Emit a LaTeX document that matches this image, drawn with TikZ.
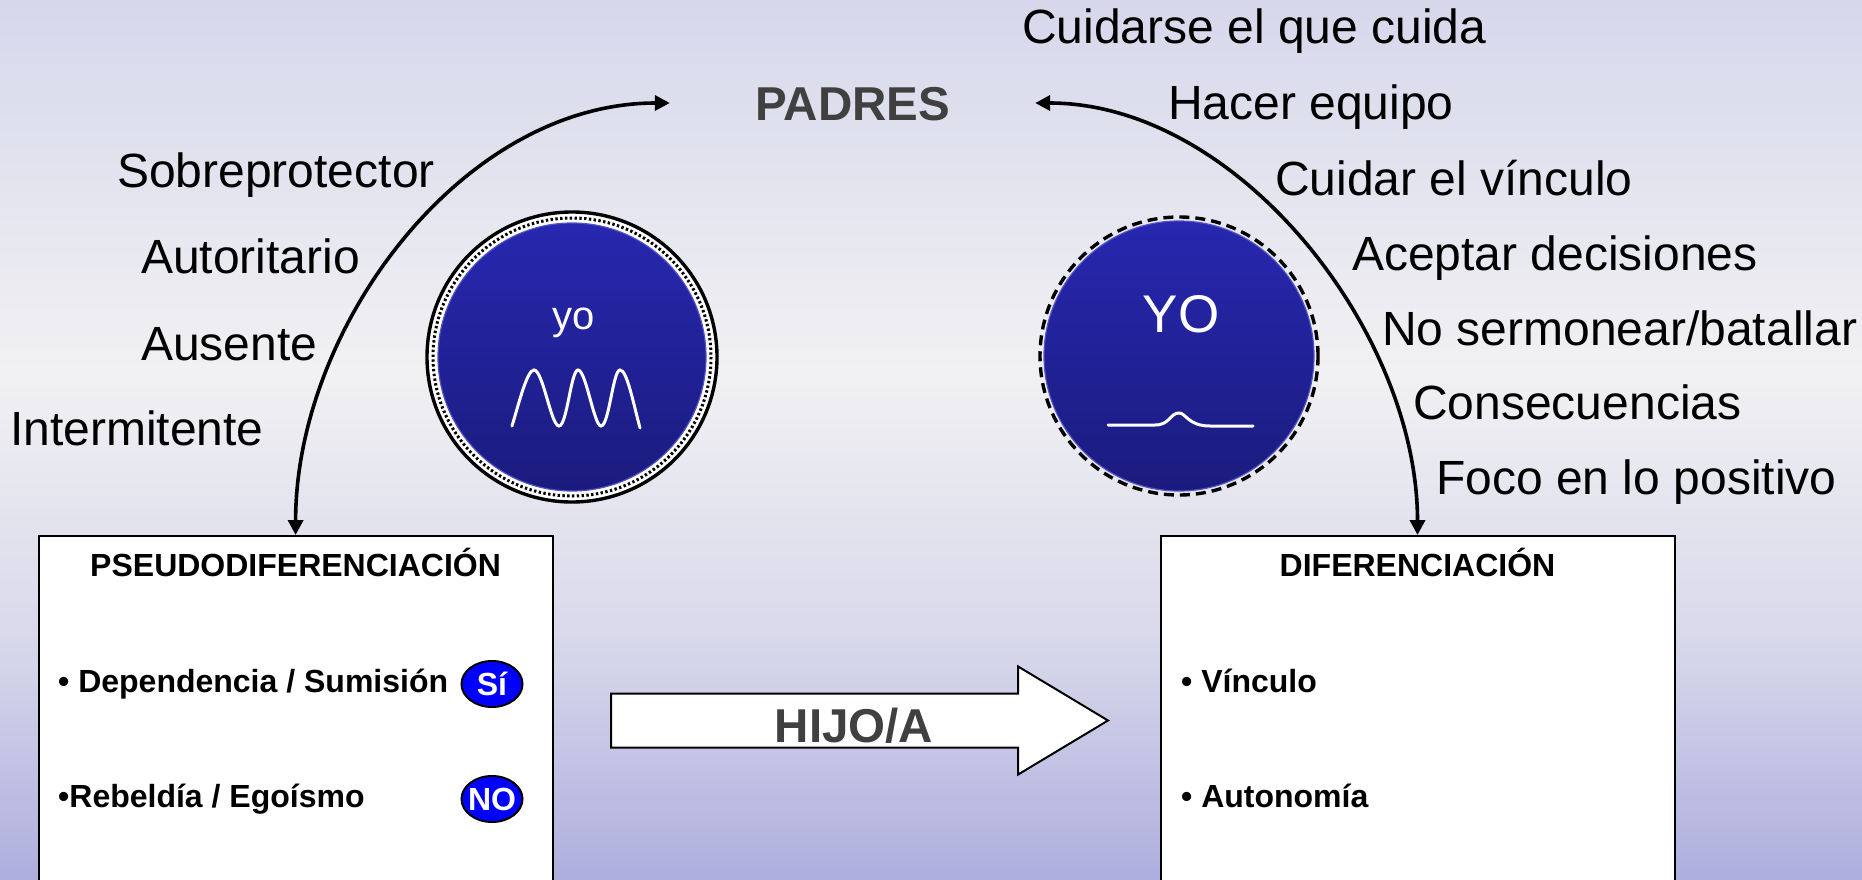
\documentclass[tikz,border=0pt]{standalone}
\usepackage{fontspec}
\setmainfont{Liberation Sans}
\usetikzlibrary{positioning,arrows.meta,shapes.arrows,shapes.geometric}

\definecolor{backtop}{HTML}{D6D7EB}
\definecolor{backmid}{HTML}{F1F1F3}
\definecolor{backlow}{HTML}{D8D8EB}
\definecolor{backbot}{HTML}{AEAEDF}
\definecolor{discup}{HTML}{2727B0}
\definecolor{discdown}{HTML}{1B1B7E}
\definecolor{discrim}{HTML}{5252C8}
\definecolor{greytext}{HTML}{404040}

\pgfdeclareverticalshading{backfade}{100bp}{
  color(0bp)=(backbot); color(25bp)=(backbot); color(38.6bp)=(backlow); color(54bp)=(backmid);
  color(75bp)=(backtop); color(100bp)=(backtop)}

\begin{document}
\begin{tikzpicture}[
    x=1pt,y=-1pt,
    attitude/.style={anchor=base west,inner sep=0pt,font=\fontsize{48}{50}\selectfont},
    headline/.style={anchor=base,inner sep=0pt,text=greytext,font=\fontsize{47.5}{50}\selectfont\bfseries},
    panel/.style={draw,fill=white,line width=2pt,inner sep=0pt,minimum width=514pt,minimum height=380pt},
    paneltitle/.style={inner sep=0pt,font=\fontsize{32}{34}\selectfont\bfseries},
    item/.style={anchor=base west,inner sep=0pt,font=\fontsize{32}{34}\selectfont\bfseries},
    answer/.style={ellipse,draw,fill=blue,text=white,line width=2pt,inner sep=-10pt,minimum width=61pt,minimum height=46pt,font=\fontsize{32}{34}\selectfont\bfseries},
    disc/.style={circle,draw=discrim,line width=1.2pt,inner sep=0pt,top color=discup,bottom color=discdown},
    wave/.style={white,line width=3pt,line cap=round},
    link/.style={line width=3.6pt,{Triangle[length=15pt,width=15pt]}-{Triangle[length=15pt,width=15pt]}}
    ]

    % background:
    \shade [shading=backfade] (0,0) rectangle (1862,880);
    \useasboundingbox (0,0) rectangle (1862,880);

    % parents:
    \node (padres) at (852.5,103) [inner sep=0pt,minimum width=365pt,minimum height=50pt] {};
    \node [headline] at (853,121) {PADRES};

    % left labels:
    \foreach \i/\x/\y/\t in {0/117/187/Sobreprotector,1/141/273/Autoritario,2/141/360/Ausente,3/10/445/Intermitente}
      \node (ll\i) at (\x,\y) [attitude] {\t};

    % right labels:
    \foreach \i/\x/\y/\t in {0/1022/44/Cuidarse el que cuida,1/1168/120/Hacer equipo,2/1275/195/Cuidar el vínculo,
        3/1352/270/Aceptar decisiones,4/1382/345/{No sermonear/batallar},5/1413/419/Consecuencias,6/1436/494/Foco en lo positivo}
      \node (lr\i) at (\x,\y) [attitude] {\t};

    % boxes:
    \node (pseudo) at (295.6,726) [panel] {};
    \node (difer) at (1417.5,726) [panel] {};
    \node (tpseudo) at (295.6,562) [paneltitle] {PSEUDODIFERENCIACIÓN};
    \node (tdifer) at (1417.5,562) [paneltitle] {DIFERENCIACIÓN};

    \node (i0) at (58,692) [item] {• Dependencia / Sumisión};
    \node (i1) at (58,807) [item] {•Rebeldía / Egoísmo};
    \node (i2) at (1181,692) [item] {• Vínculo};
    \node (i3) at (1181,807) [item] {• Autonomía};

    \node (si) at (492,684) [answer] {Sí};
    \node (no) at (492,799) [answer] {NO};

    % arrow between the boxes:
    \node (flecha) at (610,720.5) [single arrow,anchor=tail,draw,fill=white,line width=2pt,inner xsep=0pt,inner ysep=26pt,
        single arrow head extend=27pt,single arrow tip angle=62,minimum height=497pt] {};
    \node [headline] at (854,742) {HIJO/A};

    % left disc:
    \node (ringa) at (572,357) [circle,draw,fill=white,line width=3.4pt,inner sep=0pt,minimum size=290pt] {};
    \draw [line width=3pt,dash pattern=on 2.4pt off 2.4pt] (ringa.center) circle [radius=139];
    \node (yoa) at (572,357) [disc,minimum size=268pt] {};
    \node at (574,323) [text=white,inner sep=0pt,font=\fontsize{40}{42}\selectfont] {yo};
    \draw [wave] (512,426) .. controls (519,403) and (527,370) .. (534,370)
        .. controls (543,370) and (551,426) .. (559,426)
        .. controls (567,426) and (571,370) .. (578,370)
        .. controls (586,370) and (594,426) .. (601,426)
        .. controls (609,426) and (613,370) .. (620,370)
        .. controls (627,370) and (633,402) .. (640,428);

    % right disc:
    \node (yob) at (1179,356) [disc,minimum size=270pt] {};
    \node (ringb) at (1179,356) [circle,draw,dashed,dash pattern=on 10pt off 6pt,line width=3.4pt,inner sep=0pt,minimum size=278pt] {};
    \node at (1181,314) [text=white,inner sep=0pt,font=\fontsize{53}{56}\selectfont] {YO};
    \draw [wave] (1108,425) -- (1155,425) .. controls (1170,425) and (1170,413) .. (1179,413)
        .. controls (1186,413) and (1188,426) .. (1210,426) -- (1253,426);

    % links:
    \draw [link] (pseudo.north) to [out=90,in=180,looseness=0.93] (padres.west);
    \draw [link] (difer.north) to [out=90,in=0,looseness=0.9] (padres.east);

  \end{tikzpicture}
\end{document}
